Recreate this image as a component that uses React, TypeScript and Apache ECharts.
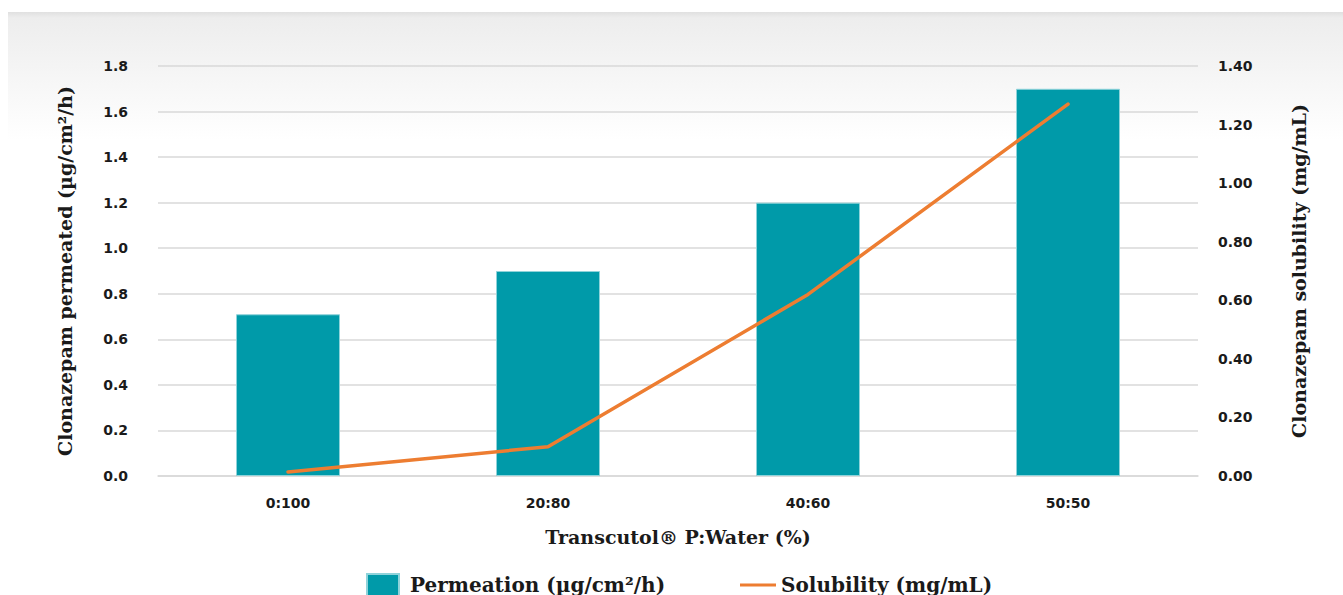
import React, { useEffect, useRef } from "react";
import * as echarts from "echarts";

const categories = ["0:100", "20:80", "40:60", "50:50"];
const permeation = [0.71, 0.9, 1.2, 1.7];
const solubility = [0.014, 0.1, 0.62, 1.27];
const leftTicks = { min: 0, max: 1.8, interval: 0.2 };
const rightTicks = { min: 0, max: 1.4, interval: 0.2 };

const TEAL = "#009aa9";
const ORANGE = "#ed7d31";
const SERIF = "'DejaVu Serif', serif";
const SANS = "'DejaVu Sans', sans-serif";

export default function App() {
  const ref = useRef<HTMLDivElement>(null);
  useEffect(() => {
    const chart = echarts.init(ref.current!, null, { renderer: "svg" });
    chart.setOption({
      animation: false,
      backgroundColor: "#ffffff",
      graphic: [
        {
          type: "rect",
          z: -10,
          silent: true,
          shape: { x: 8, y: 12, width: 1343, height: 583 },
          style: {
            fill: new echarts.graphic.LinearGradient(0, 0, 0, 1, [
              { offset: 0, color: "#e0e0e0" },
              { offset: 0.01, color: "#ededed" },
              { offset: 0.22, color: "#ffffff" },
              { offset: 1, color: "#ffffff" },
            ]),
          },
        },
      ],
      grid: { left: 158, right: 145, top: 66, bottom: 119, containLabel: false },
      legend: [
        {
          data: [{ name: "Permeation (µg/cm²/h)", icon: "rect" }],
          left: 361,
          top: 568,
          itemWidth: 32,
          itemHeight: 22,
          textStyle: { fontFamily: SERIF, fontWeight: "bold", fontSize: 20, color: "#1a1a1a", padding: [0, 0, 0, 6] },
        },
        {
          data: [{ name: "Solubility (mg/mL)", icon: "rect" }],
          left: 735,
          top: 570,
          itemWidth: 36,
          itemHeight: 3,
          itemStyle: { color: ORANGE },
          textStyle: { fontFamily: SERIF, fontWeight: "bold", fontSize: 20, color: "#1a1a1a" },
        },
      ],
      xAxis: {
        type: "category",
        data: categories,
        name: "Transcutol® P:Water (%)",
        nameLocation: "middle",
        nameGap: 51,
        nameTextStyle: { fontFamily: SERIF, fontWeight: "bold", fontSize: 19, color: "#1a1a1a" },
        axisLine: { lineStyle: { color: "#d9d9d9", width: 1.5 } },
        axisTick: { show: false },
        axisLabel: { margin: 20, fontFamily: SANS, fontWeight: "bold", fontSize: 14, color: "#1a1a1a" },
      },
      yAxis: [
        {
          type: "value",
          ...leftTicks,
          name: "Clonazepam permeated (µg/cm²/h)",
          nameLocation: "middle",
          nameRotate: 90,
          nameGap: 84,
          nameTextStyle: { fontFamily: SERIF, fontWeight: "bold", fontSize: 19, color: "#1a1a1a" },
          axisLine: { show: false },
          axisTick: { show: false },
          axisLabel: {
            margin: 30,
            fontFamily: SANS,
            fontWeight: "bold",
            fontSize: 14,
            color: "#1a1a1a",
            formatter: (v: number) => v.toFixed(1),
          },
          splitLine: { lineStyle: { color: "#d9d9d9", width: 1.5 } },
        },
        {
          type: "value",
          ...rightTicks,
          position: "right",
          name: "Clonazepam solubility (mg/mL)",
          nameLocation: "middle",
          nameRotate: 90,
          nameGap: 91,
          nameTextStyle: { fontFamily: SERIF, fontWeight: "bold", fontSize: 19, color: "#1a1a1a" },
          axisLine: { show: false },
          axisTick: { show: false },
          axisLabel: {
            margin: 20,
            fontFamily: SANS,
            fontWeight: "bold",
            fontSize: 14,
            color: "#1a1a1a",
            formatter: (v: number) => v.toFixed(2),
          },
          splitLine: { show: false },
        },
      ],
      series: [
        {
          name: "Permeation (µg/cm²/h)",
          type: "bar",
          data: permeation,
          barWidth: "40%",
          itemStyle: { color: TEAL, borderColor: "#8fd3da", borderWidth: 1 },
        },
        {
          name: "Solubility (mg/mL)",
          type: "line",
          yAxisIndex: 1,
          data: solubility,
          symbol: "none",
          lineStyle: { color: ORANGE, width: 3.5, cap: "round" },
          itemStyle: { color: ORANGE },
        },
      ],
    });
    return () => chart.dispose();
  }, []);
  return (
    <div
      ref={ref}
      style={{ position: "fixed", left: 0, top: 0, width: 1343, height: 595 }}
    />
  );
}
